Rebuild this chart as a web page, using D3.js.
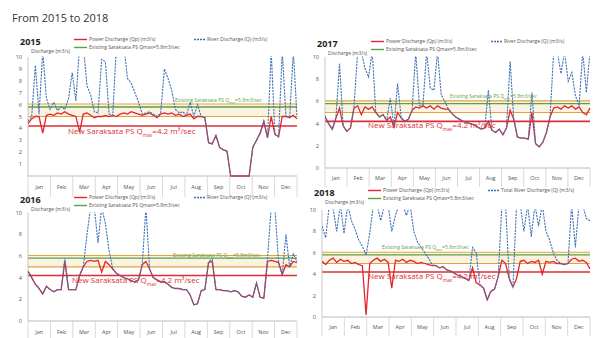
<!DOCTYPE html>
<html>
<head>
<meta charset="utf-8">
<script src="https://cdn.jsdelivr.net/npm/d3@7"></script>
<style>
  html, body { margin: 0; padding: 0; background: #fff; }
  svg { display: block; font-family: "Open Sans", "Noto Sans", sans-serif; }
</style>
</head>
<body>
<svg id="chart" width="608" height="338"></svg>
<script>
// ---- data (one sample every 5 days) ----
const months = ["Jan", "Feb", "Mar", "Apr", "May", "Jun", "Jul", "Aug", "Sep", "Oct", "Nov", "Dec"];
const sampleDays = d3.range(0, 366, 5);

const existingQmax = 5.8;
const newQmax = 4.2;
const bandLow = 5.0;
const bandHigh = 6.05;

const river2015 = [4.6, 5.0, 9.3, 5.2, 10.5, 6.5, 5.6, 6.2, 5.5, 5.8, 5.6, 6.5, 8.7, 6.3, 11, 11, 7.6, 6.8, 5.4, 5.3,
  9.8, 9.6, 5.2, 5.1, 11, 10.5, 11, 8.2, 7.8, 7.0, 6.2, 5.2, 5.3, 5.4, 5.2, 5.0, 5.3, 9.0, 8.2, 7.2,
  5.6, 5.3, 5.4, 5.1, 6.2, 5.0, 6.0, 5.0, 4.9, 2.8, 2.7, 3.4, 2.4, 2.2, 2.1, 0, 0, 0, 0, 0,
  0, 2.4, 3.0, 3.6, 4.6, 3.2, 10.5, 3.5, 3.3, 10.5, 5.0, 4.9, 10.5, 5.0];
const power2015 = [4.4, 4.8, 5.0, 5.0, 3.6, 5.1, 5.2, 5.1, 5.3, 5.2, 5.4, 5.2, 5.1, 5.0, 3.7, 5.2, 5.3, 5.1, 4.9, 5.0,
  5.0, 5.1, 5.0, 5.1, 5.0, 5.2, 5.3, 5.2, 5.4, 5.3, 5.2, 5.1, 5.2, 5.3, 5.1, 4.9, 5.2, 5.3, 5.2, 5.3,
  5.1, 5.2, 5.0, 5.1, 5.2, 4.8, 5.0, 5.0, 4.9, 2.8, 2.7, 3.4, 2.4, 2.2, 2.1, 0, 0, 0, 0, 0,
  0, 2.4, 3.0, 3.6, 4.6, 3.2, 5.0, 3.5, 3.3, 5.0, 5.0, 4.9, 5.1, 4.8];

const river2017 = [4.7, 4.0, 3.5, 4.5, 9.4, 3.8, 3.3, 3.6, 5.6, 10.5, 10.5, 9.0, 8.2, 10.5, 5.0, 4.6, 4.8, 4.3, 6.3, 3.7,
  7.6, 4.5, 4.2, 4.4, 5.2, 10.5, 5.6, 5.7, 10.5, 7.2, 7.0, 10.5, 6.6, 6.0, 5.3, 4.9, 4.6, 4.4, 4.2, 4.1,
  4.0, 3.9, 3.7, 3.5, 3.6, 7.0, 3.4, 3.2, 3.5, 3.0, 3.6, 9.6, 4.4, 2.8, 2.7, 2.7, 2.6, 6.8, 2.2, 1.9,
  2.3, 3.2, 4.6, 10.5, 10.5, 8.5, 10.5, 7.8, 8.6, 6.5, 5.6, 10.5, 6.8, 10.5];
const power2017 = [4.6, 4.0, 3.5, 4.5, 5.4, 3.8, 3.3, 3.6, 5.4, 5.6, 4.8, 5.5, 5.3, 5.5, 5.0, 4.6, 4.8, 4.3, 4.6, 3.7,
  5.0, 4.5, 4.2, 4.4, 5.2, 5.5, 5.4, 5.6, 5.4, 5.6, 5.3, 5.6, 5.4, 5.3, 5.3, 4.9, 4.6, 4.4, 4.2, 4.1,
  4.0, 3.9, 3.7, 3.5, 3.6, 4.2, 3.4, 3.2, 3.5, 3.0, 3.6, 5.2, 4.4, 2.8, 2.7, 2.7, 2.6, 5.0, 2.2, 1.9,
  2.3, 3.2, 4.6, 5.4, 5.5, 5.3, 5.6, 5.4, 5.6, 5.3, 5.5, 5.0, 4.8, 5.4];

const river2016 = [4.6, 4.0, 3.4, 3.0, 2.5, 3.2, 2.9, 2.7, 2.9, 2.9, 5.8, 2.9, 2.9, 2.9, 4.2, 5.0, 8.0, 10.5, 10.5, 7.2,
  10.5, 9.0, 6.5, 4.8, 4.4, 4.2, 4.0, 3.9, 3.7, 3.6, 3.8, 5.2, 10.5, 4.8, 4.0, 3.8, 3.6, 3.6, 3.4, 3.1,
  3.0, 3.0, 2.9, 2.9, 2.4, 1.5, 1.6, 2.8, 2.9, 5.5, 5.7, 2.9, 2.9, 2.8, 2.8, 2.7, 2.8, 2.7, 2.3, 2.2,
  2.4, 2.2, 3.5, 2.2, 2.1, 5.8, 10.5, 10.5, 5.4, 4.3, 8.0, 5.0, 6.2, 5.5];
const power2016 = [4.6, 4.0, 3.4, 3.0, 2.5, 3.2, 2.9, 2.7, 2.9, 2.9, 5.5, 2.9, 2.9, 2.9, 4.2, 5.0, 5.5, 5.6, 5.5, 5.6,
  4.5, 5.5, 5.2, 4.8, 4.4, 4.2, 4.0, 3.9, 3.7, 3.6, 3.8, 5.2, 5.5, 4.8, 4.0, 3.8, 3.6, 3.6, 3.4, 3.1,
  3.0, 3.0, 2.9, 2.9, 2.4, 1.5, 1.6, 2.8, 2.9, 5.4, 5.5, 2.9, 2.9, 2.8, 2.8, 2.7, 2.8, 2.7, 2.3, 2.2,
  2.4, 2.2, 3.5, 2.2, 2.1, 5.5, 5.6, 5.5, 5.4, 4.3, 5.2, 5.0, 5.5, 5.4];

const river2018 = [8.5, 7.4, 10.5, 10.2, 8.0, 10.5, 7.8, 10.5, 9.0, 8.2, 7.2, 6.6, 5.8, 7.8, 10.5, 10.5, 9.0, 10.5, 10.5, 8.0,
  9.5, 10.5, 10.5, 9.5, 10.5, 8.0, 7.0, 6.5, 6.0, 5.5, 4.9, 4.8, 4.6, 4.7, 4.4, 4.3, 4.1, 3.9, 3.8, 3.6,
  3.4, 6.5, 6.0, 3.0, 2.7, 1.6, 2.4, 2.6, 3.8, 10.5, 10.5, 3.6, 2.8, 10.5, 10.5, 8.0, 10.5, 7.5, 10.5, 8.5,
  10.5, 8.0, 7.2, 6.0, 5.3, 5.0, 4.9, 5.0, 10.5, 6.5, 10.5, 10.5, 9.2, 9.0];
const power2018 = [5.2, 4.9, 5.3, 5.5, 5.1, 5.4, 5.2, 5.3, 5.0, 5.1, 4.9, 4.8, 0.2, 5.0, 5.3, 5.5, 5.2, 5.4, 5.1, 2.7,
  5.3, 5.2, 5.4, 5.1, 5.3, 5.2, 5.0, 5.1, 5.0, 4.9, 4.8, 4.8, 4.6, 4.7, 4.4, 4.3, 4.1, 3.9, 3.8, 3.6,
  3.4, 4.6, 3.2, 3.0, 2.7, 1.6, 2.4, 2.6, 3.8, 5.3, 5.0, 3.6, 2.8, 3.6, 5.2, 5.3, 5.0, 5.2, 5.1, 5.3,
  4.0, 5.2, 5.1, 5.2, 5.0, 5.0, 4.9, 5.0, 5.4, 5.5, 5.2, 5.3, 5.1, 4.5];

const ticksEvery1 = [1, 2, 3, 4, 5, 6, 7, 8, 9, 10];
const ticksEvery2 = [0, 2, 4, 6, 8, 10];

// ---- layout ----
const panels = [
  { year: "2015", river: river2015, power: power2015, ticks: ticksEvery1, riverLabel: "River Discharge (Q) (m3/s)",
    left: 28, right: 297, top: 57, bottom: 176, axisH: 21, legY: 41,
    greenAt: [175, 102], redAt: [68, 134] },
  { year: "2017", river: river2017, power: power2017, ticks: ticksEvery2, riverLabel: "River Discharge (Q) (m3/s)",
    left: 325, right: 590, top: 57, bottom: 168, axisH: 19, legY: 43,
    greenAt: [450, 98], redAt: [368, 128] },
  { year: "2016", river: river2016, power: power2016, ticks: ticksEvery2, riverLabel: "River Discharge (Q) (m3/s)",
    left: 28, right: 297, top: 212.7, bottom: 321, axisH: 20, legY: 199,
    greenAt: [173, 257], redAt: [72, 283] },
  { year: "2018", river: river2018, power: power2018, ticks: ticksEvery2, riverLabel: "Total River Discharge (Q) (m3/s)",
    left: 322, right: 590, top: 210, bottom: 317, axisH: 19, legY: 192,
    greenAt: [382, 249], redAt: [368, 279] }
];

const C = {
  river: "#3f73b8", power: "#e3262b", green: "#5f9e45", band: "#e2a33e",
  bandFill: "#fbf3e2", newLine: "#dc2f35", axis: "#b9b9b9", text: "#555"
};

const svg = d3.select("#chart");

svg.append("text")
  .attr("x", 12).attr("y", 22)
  .style("font-size", "11px").style("fill", "#333")
  .text("From 2015 to 2018");

function qmax(sel, before, after, size) {
  sel.append("tspan").text(before);
  sel.append("tspan").attr("baseline-shift", "sub").style("font-size", (size * 0.6) + "px").text("max");
  sel.append("tspan").text(after);
}

panels.forEach((p, pi) => {
  const g = svg.append("g");

  const x = d3.scaleLinear().domain([0, 365]).range([p.left, p.right]);
  const y = d3.scaleLinear().domain([0, 10]).range([p.bottom, p.top]);
  const xm = d3.scaleBand().domain(months).range([p.left, p.right]);

  // operating band + threshold lines
  g.append("rect")
    .attr("x", p.left).attr("width", p.right - p.left)
    .attr("y", y(bandHigh)).attr("height", y(bandLow) - y(bandHigh))
    .attr("fill", C.bandFill);
  [bandHigh, bandLow].forEach(v => {
    g.append("line")
      .attr("x1", p.left).attr("x2", p.right).attr("y1", y(v)).attr("y2", y(v))
      .attr("stroke", C.band).attr("stroke-width", 1.2);
  });
  g.append("line")
    .attr("x1", p.left).attr("x2", p.right).attr("y1", y(existingQmax)).attr("y2", y(existingQmax))
    .attr("stroke", C.green).attr("stroke-width", 1.3);
  g.append("line")
    .attr("x1", p.left).attr("x2", p.right).attr("y1", y(newQmax)).attr("y2", y(newQmax))
    .attr("stroke", C.newLine).attr("stroke-width", 1.6);

  // y axis
  g.append("line")
    .attr("x1", p.left).attr("x2", p.left).attr("y1", y(10)).attr("y2", p.bottom)
    .attr("stroke", C.axis).attr("stroke-width", 0.8);
  g.selectAll(".yt").data(p.ticks).enter().append("text")
    .attr("x", p.left - 6).attr("y", d => y(d) + 2)
    .attr("text-anchor", "end")
    .style("font-size", "5.5px").style("fill", C.text)
    .text(d => d);

  // month axis as a small table
  g.append("line")
    .attr("x1", p.left).attr("x2", p.right).attr("y1", p.bottom).attr("y2", p.bottom)
    .attr("stroke", C.axis).attr("stroke-width", 1);
  g.selectAll(".mt").data(months.concat(["end"])).enter().append("line")
    .attr("x1", (d, i) => i < 12 ? xm(d) : p.right)
    .attr("x2", (d, i) => i < 12 ? xm(d) : p.right)
    .attr("y1", p.bottom).attr("y2", p.bottom + p.axisH)
    .attr("stroke", "#cfcfcf").attr("stroke-width", 0.8);
  g.selectAll(".ml").data(months).enter().append("text")
    .attr("x", d => xm(d) + xm.bandwidth() / 2).attr("y", p.bottom + p.axisH / 2 + 2.5)
    .attr("text-anchor", "middle")
    .style("font-size", "5.5px").style("fill", C.text)
    .text(d => d);

  // series
  const clipId = "clip" + pi;
  g.append("clipPath").attr("id", clipId).append("rect")
    .attr("x", p.left).attr("y", y(10.05)).attr("width", p.right - p.left + 1).attr("height", p.bottom - y(10.05) + 1);

  const line = d3.line().x((d, i) => x(sampleDays[i])).y(d => y(d));

  g.append("path").datum(p.power)
    .attr("clip-path", `url(#${clipId})`)
    .attr("fill", "none").attr("stroke", C.power).attr("stroke-width", 1.3)
    .attr("d", line);
  g.append("path").datum(p.river)
    .attr("clip-path", `url(#${clipId})`)
    .attr("fill", "none").attr("stroke", C.river).attr("stroke-width", 1.1)
    .attr("stroke-dasharray", "2.2,1")
    .attr("d", line);

  // annotations
  g.append("text")
    .attr("x", p.greenAt[0]).attr("y", p.greenAt[1])
    .style("font-size", "5px").style("fill", C.green)
    .call(s => qmax(s, "Existing Saraksata PS Q", "=5.8m3/sec", 5));
  g.append("text")
    .attr("x", p.redAt[0]).attr("y", p.redAt[1])
    .style("font-size", "8px").style("fill", C.newLine)
    .call(s => qmax(s, "New Saraksata PS Q", "=4.2 m\u00b3/sec", 8));

  // title, axis title, legend
  g.append("text")
    .attr("x", p.left - 8).attr("y", p.legY + 4)
    .style("font-size", "9px").style("font-weight", "bold").style("fill", "#222")
    .text(p.year);
  g.append("text")
    .attr("x", p.left + 3).attr("y", p.legY + 11.5)
    .style("font-size", "5px").style("fill", C.text)
    .text("Discharge (m3/s)");

  const lx = p.left + 46;
  g.append("line").attr("x1", lx).attr("x2", lx + 13).attr("y1", p.legY - 1.5).attr("y2", p.legY - 1.5)
    .attr("stroke", C.power).attr("stroke-width", 1.4);
  g.append("text").attr("x", lx + 15).attr("y", p.legY)
    .style("font-size", "5px").style("fill", C.text).text("Power Discharge (Qp) (m3/s)");
  g.append("line").attr("x1", lx).attr("x2", lx + 13).attr("y1", p.legY + 6.5).attr("y2", p.legY + 6.5)
    .attr("stroke", C.green).attr("stroke-width", 1.4);
  g.append("text").attr("x", lx + 15).attr("y", p.legY + 8)
    .style("font-size", "5px").style("fill", C.text).text("Existing Saraksata PS Qmax=5.8m3/sec");
  const bx = p.left + 166;
  g.append("line").attr("x1", bx).attr("x2", bx + 11).attr("y1", p.legY - 1.5).attr("y2", p.legY - 1.5)
    .attr("stroke", C.river).attr("stroke-width", 1.3).attr("stroke-dasharray", "2,1");
  g.append("text").attr("x", bx + 13).attr("y", p.legY)
    .style("font-size", "5px").style("fill", C.text).text(p.riverLabel);
});
</script>
</body>
</html>
